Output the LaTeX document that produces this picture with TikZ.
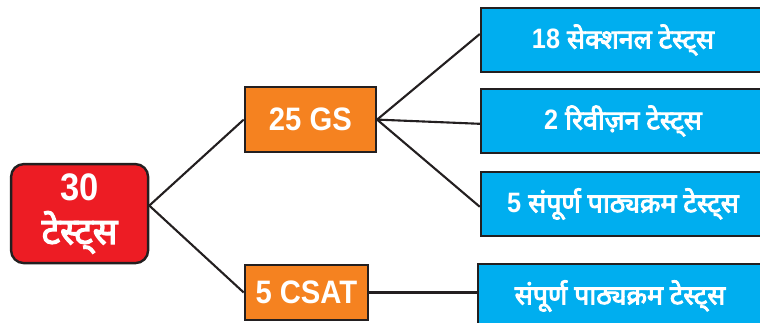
\documentclass[tikz,border=0pt]{standalone}
\usepackage{fontspec}
\setmainfont{Noto Sans}[Script=Devanagari, AutoFakeBold=3.5]
\newfontfamily\latinsans{Liberation Sans}[Scale=1.05, FakeStretch=0.9]
\usetikzlibrary{calc}
\definecolor{boxred}{HTML}{ED1C24}
\definecolor{boxorange}{HTML}{F58220}
\definecolor{boxblue}{HTML}{00AEEF}
\definecolor{edge}{HTML}{231F20}
\newcommand{\lat}[1]{{\latinsans\bfseries #1}}
\tikzset{
	totalbox/.style={draw=edge, line width=1.7pt, fill=boxred, rounded corners=9pt, text=white, font=\bfseries\fontsize{26}{31}\selectfont, align=center, minimum width=3.425cm, minimum height=2.475cm, inner sep=0pt},
	groupbox/.style={draw=edge, line width=1.7pt, fill=boxorange, text=white, font=\bfseries\fontsize{22}{26}\selectfont, inner sep=0pt},
	testbox/.style={draw=edge, line width=1.7pt, fill=boxblue, text=white, font=\bfseries\fontsize{19}{22}\selectfont, minimum width=7.1cm, minimum height=1.6cm, inner sep=0pt},
	link/.style={draw=edge, line width=1.5pt}
}
\begin{document}
\begin{tikzpicture}
		%%%%% START %%%%%
		\useasboundingbox (0, 0) rectangle (19, 8.05);
		\clip (0, 0) rectangle (19, 8.05);
		
		\node[totalbox] (total) at (1.99, 2.71) {\lat{30}\\टेस्ट्स};
		\coordinate (fork) at ([yshift=0.2cm]total.east);
		
		\node[groupbox, minimum width=3.275cm, minimum height=1.625cm] (gs) at (7.76, 5.06) {\lat{25 GS}};
		\node[groupbox, minimum width=3.075cm, minimum height=1.375cm] (csat) at (7.66, 0.7375) {\lat{5 CSAT}};
		
		\node[testbox] (sectional) at (15.575, 7.05) {\lat{18} सेक्शनल टेस्ट्स};
		\node[testbox] (revision) at (15.575, 5.025) {\lat{2} रिवीज़न टेस्ट्स};
		\node[testbox] (fullgs) at (15.575, 2.95) {\lat{5} संपूर्ण पाठ्यक्रम टेस्ट्स};
		\node[testbox] (fullcsat) at (15.5, 0.65) {संपूर्ण पाठ्यक्रम टेस्ट्स};
		
		\draw[link] (fork) -- (gs.west);
		\draw[link] (fork) -- (csat.west);
		
		\draw[link] (gs.east) -- ([yshift=0.15cm]sectional.west);
		\draw[link] (gs.east) -- ([yshift=-0.07cm]revision.west);
		\draw[link] (gs.east) -- ([yshift=-0.07cm]fullgs.west);
		\draw[link] (csat.east) -- (csat.east -| fullcsat.west);
		%%%%% END %%%%%
	\end{tikzpicture}
\end{document}
